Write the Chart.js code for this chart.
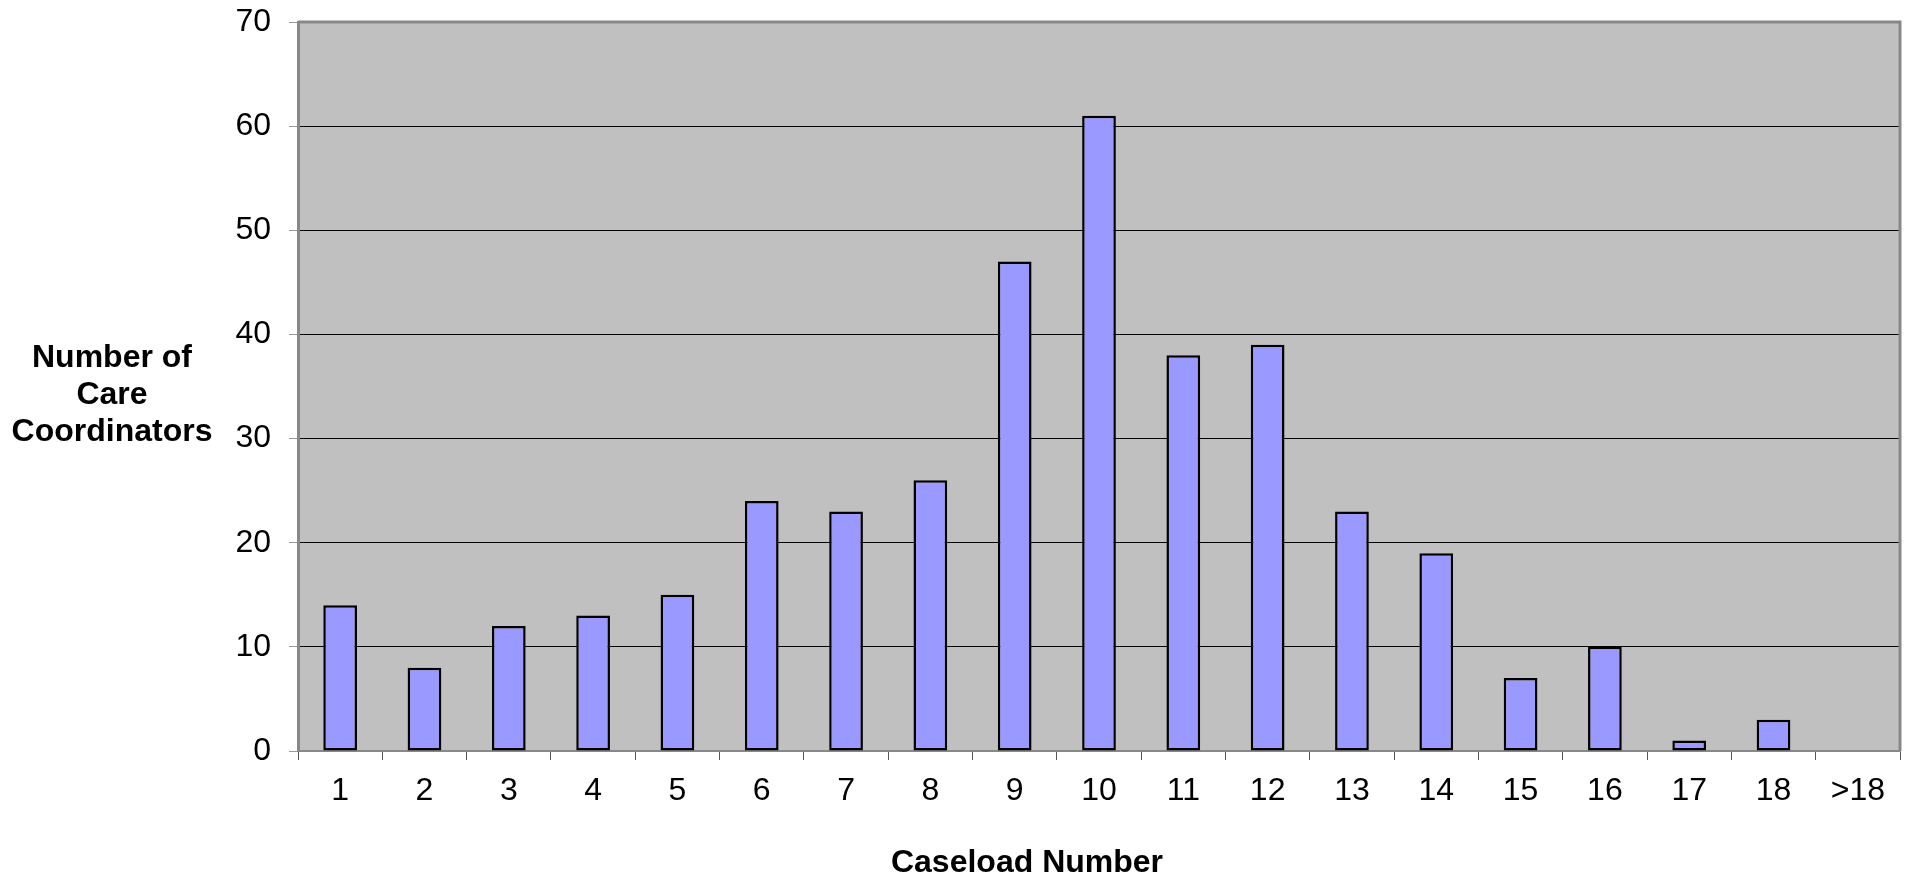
<!DOCTYPE html>
<html lang="en">
<head>
<meta charset="UTF-8">
<title>Caseload Number</title>
<script src="https://cdn.jsdelivr.net/npm/chart.js"></script>
<style>
  html, body { margin: 0; padding: 0; background: #fff; }
  #wrap { width: 1911px; height: 878px; }
</style>
</head>
<body>
<div id="wrap"><canvas id="myChart" width="1911" height="878"></canvas></div>
<script>
// data
const caseloads = ['1', '2', '3', '4', '5', '6', '7', '8', '9', '10', '11', '12', '13', '14', '15', '16', '17', '18', '>18'];
const coordinators = [14, 8, 12, 13, 15, 24, 23, 26, 47, 61, 38, 39, 23, 19, 7, 10, 1, 3, 0];
const yTitleLines = ['Number of', 'Care', 'Coordinators'];
const xTitle = 'Caseload Number';

const FONT = '"Liberation Sans", Arial, sans-serif';

// grey plot area with a border, plus the axis titles drawn by hand
const plotFrame = {
    id: 'plotFrame',
    beforeDraw(chart) {
        const { ctx, chartArea: a } = chart;
        ctx.save();
        ctx.fillStyle = '#c0c0c0';
        ctx.fillRect(a.left, a.top, a.right - a.left, a.bottom - a.top);
        ctx.restore();
    },
    afterDraw(chart) {
        const { ctx, chartArea: a } = chart;
        ctx.save();
        ctx.strokeStyle = '#888888';
        ctx.lineWidth = 3;
        ctx.beginPath();
        ctx.moveTo(a.left, a.top);
        ctx.lineTo(a.right, a.top);
        ctx.lineTo(a.right, a.bottom);
        ctx.stroke();

        ctx.fillStyle = '#000';
        ctx.font = 'bold 32px ' + FONT;
        ctx.textAlign = 'center';
        ctx.textBaseline = 'alphabetic';
        yTitleLines.forEach((line, i) => ctx.fillText(line, 112, 367 + i * 37));
        ctx.fillText(xTitle, 1027, 872);
        ctx.restore();
    }
};

const ctx = document.getElementById('myChart').getContext('2d');
const myChart = new Chart(ctx, {
    type: 'bar',
    data: {
        labels: caseloads,
        datasets: [{
            label: 'Care Coordinators',
            data: coordinators,
            backgroundColor: '#9999ff',
            borderColor: '#000000',
            borderWidth: 2.5,
            borderSkipped: false,
            barPercentage: 0.4,
            categoryPercentage: 1.0
        }]
    },
    options: {
        responsive: false,
        animation: false,
        layout: { padding: { top: 22, right: 11, left: 0, bottom: 0 } },
        plugins: {
            legend: { display: false },
            tooltip: { enabled: false }
        },
        scales: {
            x: {
                offset: true,
                grid: {
                    offset: true,
                    drawOnChartArea: false,
                    drawTicks: true,
                    tickLength: 9,
                    tickColor: '#555555'
                },
                border: { color: '#888888', width: 2 },
                ticks: {
                    color: '#000',
                    font: { family: FONT, size: 32 },
                    padding: 12,
                    maxRotation: 0,
                    autoSkip: false
                },
                afterFit(scale) {
                    scale.height = 127;
                    scale.paddingLeft = 0;
                    scale.paddingRight = 0;
                }
            },
            y: {
                min: 0,
                max: 70,
                grid: {
                    color: '#000000',
                    lineWidth: 1,
                    tickLength: 9,
                    tickColor: '#999999'
                },
                border: { color: '#888888', width: 3 },
                ticks: {
                    stepSize: 10,
                    color: '#000',
                    font: { family: FONT, size: 32 },
                    padding: 18
                },
                afterFit(scale) {
                    scale.width = 298;
                    scale.paddingTop = 0;
                    scale.paddingBottom = 0;
                }
            }
        }
    },
    plugins: [plotFrame]
});
</script>
</body>
</html>
